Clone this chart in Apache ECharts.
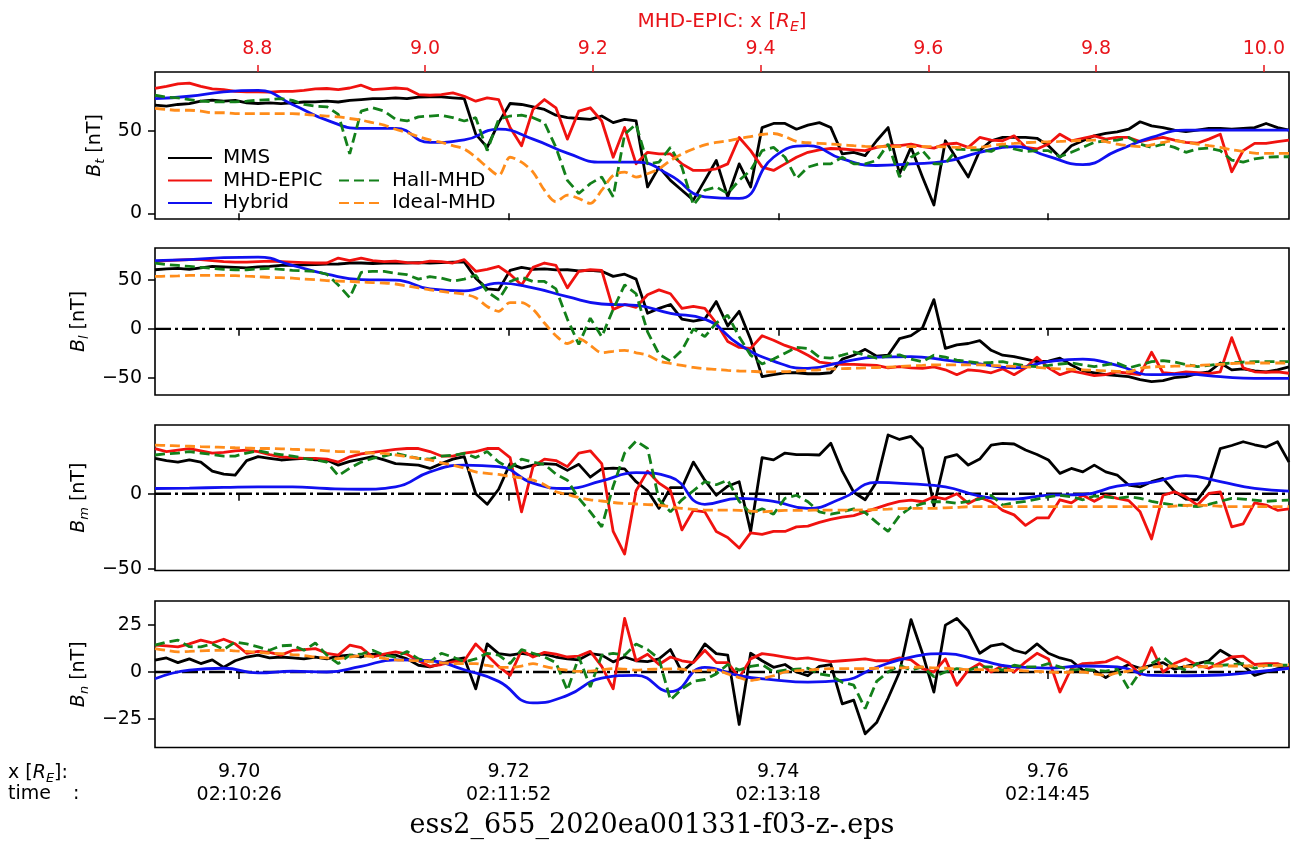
<!DOCTYPE html>
<html>
<head>
<meta charset="utf-8">
<script src="https://cdn.jsdelivr.net/npm/echarts@6/dist/echarts.min.js"></script>
<style>
  html, body { margin: 0; padding: 0; background: #fff; }
  #chart { width: 1304px; height: 852px; }
</style>
</head>
<body>
<div id="chart"></div>
<script>
// Sample positions along the MMS track (x in R_E): 100 fine samples,
// smooth Hybrid curves are stored at every third sample.
const X_START = 9.69375;
const X_STEP = 0.00085;
const COARSE_EVERY = 3;

const xTicks = [9.70, 9.72, 9.74, 9.76];
const timeLabels = ['02:10:26', '02:11:52', '02:13:18', '02:14:45'];
const topTicks = [8.8, 9.0, 9.2, 9.4, 9.6, 9.8, 10.0];

// ---- B_t ----
const btMMS = [65.6,65,66,66.5,68,68.6,68,68.5,67,66.6,
  67,66.5,67,67.5,67.6,68,67.5,68.5,69,69.5,
  69.6,70,69.5,70.5,70.6,70.6,70,69.5,48,40,
  55,66.6,66,64.5,63,59.5,58,57.5,57,59,
  55,57,56,16,28,20,14,8,20,32,
  10,30,16,52,54.5,54.5,51,53.5,55,52,
  36,37,35,44,52,24,40,22,5,44,
  33,22,38,44,46,46,46,45.5,41,34,
  41,44,47,48.5,49.4,51,55.5,53,52,50.4,
  49.5,50.5,51.5,51.5,51,51.5,52,54.5,52,50.5];
const btEPIC = [75.7,77,78.5,79,77,75.5,75,74,73.6,73.6,
  73.5,74,74,74.5,75.5,75.7,75,76,77.7,75,
  75.5,76,75.5,72,71.6,72,73,71,68,70,
  69,52,41,63,69,64,45,62,64,56,
  34,52,30,37,36,36,30,26,26,27,
  30,46,38,28,26,30,34,37,38.5,39.3,
  39,38.5,38,40,41,41,42,40.5,39.5,42,
  42.5,40,46,44.4,44,47,40,39,42,48,
  44,45.5,47,45,46,46,43.5,45,46,44.4,
  43,42.5,45,48,25.2,38,42.4,42.4,43.5,44.4];
const btHybrid = [69.6,71,73.6,74.5,66,56.5,51.5,51.5,43,44.5,
  51,45,36.5,31,31,23,10,9,34,41,
  33,29,30,31.5,37,40.5,34.5,29.5,38,46,
  50.4,50.4,50.4,50.4];
const btHall = [71.6,70.5,70,69,68,67.6,67.6,67.6,68,68.6,
  69,69.6,68.5,66,65,64.6,60,36,62,64,
  62,57,56,58.5,59,59.5,58,56,58,38,
  57,59,59.5,58,55,40,20,12,18,22,
  10,48,54,30,31,40,28,5,14,16,
  12,20,26,38,40,34,21,28,30,30,
  34,30,30,32,42,22,34,38,30,30,
  39,38.5,38.5,37.5,41.4,39,37.5,38,38,34.3,
  37,40,43,44,44.4,46,42,40,42,40,
  37,39,39.5,38,32.3,31,33,34,34.3,34.3];
const btIdeal = [63.6,63,62.5,62.5,62,61,61,60.5,60.5,60.5,
  60.5,60.5,60.5,60,59.5,59,58.5,57.5,56.5,55,
  53.5,51,49,46.5,44.5,43,41,39,34,28,
  23,34,31,25,14,7,11,9,6,14,
  23,25,22,24,27,32,36,39,41.5,43,
  44,45.4,46.5,47.8,48.4,46.5,43.6,42.8,42.4,42,
  41.5,41,40.6,40.4,40.4,40.4,40.4,40.4,40.4,40.3,
  40,39.8,40,41,42,42.4,42.8,43.2,43.4,43.6,
  44,44.2,44.4,43.5,42,41,40.5,41.5,43,44,
  43,42,41,40,38.5,37.5,36.5,36.3,36.3,36.3];

// ---- B_l ----
const blMMS = [60.6,61.5,62,61,62.5,64,63.5,63,62.5,63.5,
  64,65,65,65.5,66,66.4,66.5,67.5,67.5,67,
  67.5,67.5,67.5,68,67.5,68,68.5,68.5,52,41,
  40,60,63,61,61.5,60.5,60.6,59.5,60,59,
  53.8,56,51,16,21,25,10,8,10,28,
  3,18,-11,-49,-47,-45,-45,-46,-46,-45,
  -31,-27,-21,-28,-27,-10,-7,1,30,-20,
  -16.4,-15,-12,-22,-27,-28.4,-31,-33.6,-33,-30,
  -37,-43,-45,-47,-48,-49,-52,-54,-53,-50,
  -49,-46,-44,-35,-42,-41,-43,-44,-42,-39];
const blEPIC = [69,70,70.5,71,71,70,69,68.5,68.5,69,
  69.5,69,68.5,68,67.5,67.5,72.6,70,72.6,70,
  69,69.5,68,67.5,69.5,69,67.5,71,59,61,
  64,56,45,63,67.5,65,42,59,60.6,60,
  20,25,22,35,40,36,21,23,21,6,
  -13,-19,-20,-7,-11.6,-17,-21,-27,-34,-35.6,
  -36.5,-36.5,-37,-37.5,-40,-38.7,-40,-40.4,-39,-42,
  -47,-42,-43,-45,-41,-47,-40,-29,-40,-47,
  -43,-45.5,-48,-47,-44,-45.5,-47,-24,-45,-46,
  -44,-45,-46,-44,-9,-40,-44,-44.5,-44,-45.5];
const blHybrid = [70,71,73,73.5,65,56,50.5,50,41,39,
  46.8,42,33,25.5,24,16,10,-16,-33,-40.5,
  -34,-29,-28.5,-32,-36,-40,-33.6,-31,-37.5,-47,
  -46.5,-49,-50.7,-50.7];
const blHall = [67.5,66,65,64,63,62,61,60.6,60.6,61.5,
  62,61,60,59.5,59,56,45,32,58,59,
  59,57,55.5,51,53.5,52,49,51,55,38,
  30,48.6,53,48.6,48.6,41,10,-16,11,-8,
  20,45,36,-3,-26,-33,-22,0,-8,6,
  14,-8,-27,-36,-31,-25,-19,-20,-29,-30,
  -27,-23.6,-27,-30,-28,-26.7,-31,-33.6,-27,-29,
  -32,-33.6,-35,-34.5,-33.6,-36,-38,-38.7,-37.5,-36,
  -35,-37,-38.7,-37,-35,-40,-37,-33.6,-32.5,-34,
  -36.5,-38.7,-37.5,-36,-35,-34,-33.6,-33.6,-33.6,-33.6];
const blIdeal = [53.8,54,54.3,54.8,54.8,54.8,54.8,54.5,54,53.5,
  52.8,52.5,52,51,50.5,49.5,49,48.6,48,47.5,
  47,46,44,42,40,38.5,37,35.5,32,23,
  18,27,27,20,6,-7,-15,-10,-17,-24.5,
  -23,-22,-24.5,-27,-33,-35.5,-37.5,-39.5,-40.8,-41.5,
  -42.5,-43.2,-43.5,-44,-44,-43.8,-43.2,-42.5,-42,-41,
  -40.8,-40.4,-40,-39.6,-39.2,-38.6,-38,-37.5,-37,-37,
  -37,-37,-37,-37.5,-38,-38.5,-39,-39.5,-40.4,-41,
  -41.5,-42,-42.5,-43,-43.5,-44,-40.5,-39,-38.7,-38.2,
  -38,-37.5,-37,-36.5,-35.5,-35,-35,-35,-35,-35];

// ---- B_m ----
const bmMMS = [23.5,22,21,22.5,21,15,13,12.4,22,24.6,
  23.5,22.4,23,23.5,22.5,22.4,19,21.5,23,24.6,
  22.5,20,19.5,19,16.8,20,23,24.6,0,-7,
  3,20,17,19,20,19.5,15.5,19.5,11,16.5,
  17,16.5,8,2,-9.7,4,4,21,9,-1,
  5,8,-25,24,22.5,27,26,26,25.7,33.5,
  15,1,-4,8,39,36,38,30,-8,24,
  26,19,23,32.3,33.4,33,29,26,22.4,13.5,
  16.8,14.5,19,14.5,12.4,5.8,4.5,8,10.2,1.5,
  -3.5,-4,6,30,32,34.5,32.5,31,34.5,21];
const bmEPIC = [30,28,29,30,28.5,27,27.5,28.5,29,28,
  26,24.5,24,23.5,23.5,23,21,24.5,26.5,27.5,
  28.5,29.5,30,30,28,25,25,27,28,30,
  30,24,-12,18,23,22,18,27,28.5,20,
  -25,-40,2,15,7,2,-24,-11,-12,-25,
  -29,-36,-26,-27,-25,-25,-22,-21.5,-19,-17,
  -15.5,-14.5,-12,-9.5,-7,-5,-4.2,-5.3,-2,-3.5,
  0,-6.4,-2.5,-5.3,-11,-14,-21,-16,-16,-4,
  -6,-1,-5,-1,-3,-4.5,-12,-30,-1,1.3,
  -2,-7.5,0.2,1.3,-22,-20,-6,-7.5,-11,-10];
const bmHybrid = [3.5,3.8,4.2,4.6,4.6,3.5,3,4.6,14.5,19,
  18,7,3.5,8.5,14,11,-7,-3,-5,-9.7,
  -3,7.5,6.5,4.6,-1.5,-3.5,-0.9,-0.5,5,7.5,
  12,8,3.5,1.8];
const bmHall = [25.7,26.5,27,28,27,26,25,25,27,28.5,
  27,26,25,23.5,22.5,21,12,17,21,23.5,
  25,26.8,25,23.5,23,25,25.5,26.8,24,28,
  21,17,23,21,19.5,13,9,-3,-12,-22,
  5,27,35,30,-4,-12,-4,2,8,6,
  9,-5,-13,-10,-13.5,-3,-1,-5.3,-12,-13.5,
  -12,-10,-12.5,-19,-25,-14.5,-9,-6.5,-5.3,-5.3,
  -6.4,-5,-3.5,-1,-7.5,-6,-5,-3.5,-2,-1,
  -2,-4,-1.5,-2,-3,-2,-3,-5,-6.4,-7.5,
  -7.8,-8.6,-7,-5,-3,-3.5,-4.2,-5,-4.5,-4.2];
const bmIdeal = [32.3,32,31.8,31.5,31.2,31,30.8,30.5,30.3,30,
  30,29.8,29.5,29.2,29,28.5,28,28,27.5,27,
  26.8,25.8,24.6,23.5,22.4,20.5,19,17,14.5,13.5,
  12.8,11.5,10.5,9,6,1.3,-0.5,-2.5,-4,-4.8,
  -5.8,-6.4,-6.8,-7.2,-7.5,-8.6,-9.7,-10.3,-10.8,-10.8,
  -10.8,-11,-11.5,-12,-11.5,-11,-11,-11,-10.8,-10.8,
  -10.8,-10.8,-10.7,-10.5,-10.2,-9.8,-9.7,-9.7,-9.7,-9.3,
  -9,-8.6,-8.6,-8.6,-8.6,-8.6,-8.6,-8.6,-8.6,-8.6,
  -8.6,-8.6,-8.6,-8.6,-8.6,-8.6,-8.6,-8.6,-8.6,-8.2,
  -7.8,-7.5,-7.8,-8.3,-8.6,-8.6,-8.6,-8.6,-8.6,-8.6];

// ---- B_n ----
const bnMMS = [6.3,7.5,5,7,4.5,6.5,2.5,6,8,9,
  7.5,8,7.5,7,8,7,8.5,9,8,9.5,
  9,9,7,3.6,2.7,4.5,6.5,7.5,-9,15,
  9.8,9,10,9,9.5,8,7,6.5,9.8,9,
  5.4,8,6,5.5,7,12,0,5.4,15,9.8,
  9,-28,10,6,2.5,4,0,-2,3,4,
  -17,-15,-33,-27,-14,0,28,10,-10.7,25,
  28.6,22,10,14,15,11.6,10,15,10,7.5,
  6,1,0.9,-3,0.9,4,2,3.6,5,1.5,
  3,4.5,6,11.6,8,3.5,-1.8,0,1.8,2.5];
const bnEPIC = [14.3,14,13.4,15,17,15.5,17.5,15,10,11,
  10.5,9,11.5,12,12.5,10,9,14.3,13,8,
  9.5,10.7,9.5,6,3,4,5.4,6,15,9,
  3,-1.8,11.6,8,10.5,9.5,8,8.5,11,3,
  -9,28.6,6,9.5,4,8,6,5,11.6,5,
  5,-3,7,9.8,9,8,7,7.5,6.5,5.5,
  6,6.5,7,6,6,7.5,6.5,1.8,0,7,
  -7.1,1,4.5,0,3.5,0,5.4,10,7,-10.7,
  2,4.5,4.8,5.4,8,5,-1.5,13,0,4.5,
  7,3.6,2,5,8,8.5,4,4.5,4.5,2];
const bnHybrid = [-3.6,1,2,-0.5,0.4,0,3,6.5,6,1.2,
  -5,-16.5,-12.5,-3.3,-1.8,-10.5,2.5,-2,-4.2,-5.4,
  -4.5,2.5,8,9.8,6.3,2.7,2.1,3.2,2.7,-1.8,
  -2,-1.6,0,2];
const bnHall = [14.3,16,17,13.5,13.4,15,12,16,15,13.4,
  11.6,14,14.3,11.6,15.5,9,4.5,9,9.5,11.6,
  9,8,11,7,5.4,10,8,5.4,7,10,
  9,4.5,12,10,8,5,-9.8,8,-8,9,
  10,9,15,12,7,-15,-9,-5,-4,-1,
  4,1,3,4,0,1,1.5,2,-1,-2,
  -5.5,-7,-19.6,-5,0,3.6,1,2.7,-2.5,0,
  1.8,1,2.7,2.7,1,3.6,2.7,2.7,4.5,2.7,
  1,1.5,1,0.5,1.5,-9,0,4.5,8,3,
  1,4.5,5,3.5,4,4.5,2,3.5,3.6,3.6];
const bnIdeal = [12.5,11.5,10.7,11,11.3,11.5,11.6,11.3,11,10.5,
  10,9.8,9.3,8.8,8,7.5,7.1,8,8.7,8.2,
  7.3,6.5,6.3,6,5.5,5,4.5,4.5,4.5,3.5,
  2.5,2.5,3.2,4.5,3,1.8,1,0.3,0.5,1.2,
  1.8,1.5,1,1.4,1.5,1.7,1.5,0.5,1,1,
  -1,-3,-4.5,-3.5,-2,0,0.7,1,1.5,1.8,
  1.8,1.8,1.8,2,2.2,2.2,2.5,2.6,2.2,2,
  1.6,1.3,1.3,1,0.9,0.9,0.6,0.3,0,-0.3,
  0,0,-1,-1.8,-0.5,0.5,1.8,2.7,3,3.2,
  3,2.7,3,3.2,3.2,3.2,3.2,3.4,3.6,3.9];

// ---- styling ----
const FONT = 'DejaVu Sans';
const COLORS = { MMS: '#000000', 'MHD-EPIC': '#f0120f', Hybrid: '#1010f0', 'Hall-MHD': '#13801a', 'Ideal-MHD': '#ff8c1a' };
const X_MIN = 9.69375, X_MAX = 9.7779;
const TOP_MIN = 8.678, TOP_MAX = 10.030;
const LW = 2.8;

const panels = [
  { label: 't', top: 72,  height: 147, min: -3.45, max: 85.7, ticks: [0, 50], zero: false,
    mms: btMMS, epic: btEPIC, hybrid: btHybrid, hall: btHall, ideal: btIdeal },
  { label: 'l', top: 248, height: 147, min: -67.8, max: 82.9, ticks: [-50, 0, 50], zero: true,
    mms: blMMS, epic: blEPIC, hybrid: blHybrid, hall: blHall, ideal: blIdeal },
  { label: 'm', top: 425, height: 145.5, min: -50.9, max: 45.6, ticks: [-50, 0], zero: true,
    mms: bmMMS, epic: bmEPIC, hybrid: bmHybrid, hall: bmHall, ideal: bmIdeal },
  { label: 'n', top: 601, height: 146.5, min: -40.3, max: 37.9, ticks: [-25, 0, 25], zero: true,
    mms: bnMMS, epic: bnEPIC, hybrid: bnHybrid, hall: bnHall, ideal: bnIdeal }
];

function toPairs(vals, every) {
  return vals.map((v, k) => [X_START + k * every * X_STEP, v]);
}
const minus = v => String(v).replace('-', '\u2212');

const grid = [], xAxis = [], yAxis = [], series = [];

panels.forEach((p, gi) => {
  grid.push({ left: 155, right: 15, top: p.top, height: p.height, show: true,
    borderColor: '#000', borderWidth: 1.6, backgroundColor: 'transparent' });

  const last = gi === panels.length - 1;
  xAxis.push({
    type: 'value', gridIndex: gi, min: X_MIN, max: X_MAX, position: 'bottom',
    axisLine: { show: false }, splitLine: { show: false },
    axisTick: { show: true, customValues: xTicks, length: 7, lineStyle: { color: '#000', width: 1.5 } },
    axisLabel: {
      show: last, customValues: xTicks, margin: 13, fontFamily: FONT, fontSize: 19,
      color: '#000', lineHeight: 23,
      formatter: v => {
        const k = xTicks.findIndex(t => Math.abs(t - v) < 1e-6);
        return v.toFixed(2) + '\n' + (k >= 0 ? timeLabels[k] : '');
      }
    }
  });

  yAxis.push({
    type: 'value', gridIndex: gi, min: p.min, max: p.max,
    axisLine: { show: false }, splitLine: { show: false },
    axisTick: { show: true, customValues: p.ticks, length: 7, lineStyle: { color: '#000', width: 1.5 } },
    axisLabel: { customValues: p.ticks, margin: 13, fontFamily: FONT, fontSize: 19, color: '#000', formatter: minus },
    name: '{b|B}{s|' + p.label + '} [nT]',
    nameLocation: 'middle', nameRotate: 90, nameGap: 40,
    nameTextStyle: { fontFamily: FONT, fontSize: 19, color: '#000', lineHeight: 24,
      rich: {
        b: { fontFamily: FONT, fontStyle: 'italic', fontSize: 19, lineHeight: 24 },
        s: { fontFamily: FONT, fontStyle: 'italic', fontSize: 13, lineHeight: 10, verticalAlign: 'bottom' }
      } }
  });

  const common = { xAxisIndex: gi, yAxisIndex: gi, type: 'line', symbol: 'none', silent: true };
  if (p.zero) {
    series.push(Object.assign({}, common, {
      name: 'zero' + gi, z: 1,
      data: [[X_MIN, 0], [X_MAX, 0]],
      lineStyle: { color: '#000', width: 2.4, type: [16, 4, 3, 4] }
    }));
  }
  series.push(Object.assign({}, common, { name: 'MMS', data: toPairs(p.mms, 1),
    lineStyle: { color: COLORS.MMS, width: LW, join: 'round' }, itemStyle: { color: COLORS.MMS } }));
  series.push(Object.assign({}, common, { name: 'MHD-EPIC', data: toPairs(p.epic, 1),
    lineStyle: { color: COLORS['MHD-EPIC'], width: LW, join: 'round' }, itemStyle: { color: COLORS['MHD-EPIC'] } }));
  series.push(Object.assign({}, common, { name: 'Hybrid', data: toPairs(p.hybrid, COARSE_EVERY), smooth: 0.5,
    lineStyle: { color: COLORS.Hybrid, width: LW }, itemStyle: { color: COLORS.Hybrid } }));
  series.push(Object.assign({}, common, { name: 'Hall-MHD', data: toPairs(p.hall, 1),
    lineStyle: { color: COLORS['Hall-MHD'], width: LW, type: [10, 5] }, itemStyle: { color: COLORS['Hall-MHD'] } }));
  series.push(Object.assign({}, common, { name: 'Ideal-MHD', data: toPairs(p.ideal, 1), smooth: 0.3,
    lineStyle: { color: COLORS['Ideal-MHD'], width: LW, type: [10, 5] }, itemStyle: { color: COLORS['Ideal-MHD'] } }));
});

// upper axis: MHD-EPIC position along the simulation track
xAxis.push({
  type: 'value', gridIndex: 0, min: TOP_MIN, max: TOP_MAX, position: 'top',
  axisLine: { show: false }, splitLine: { show: false },
  axisTick: { show: true, customValues: topTicks, length: 7, lineStyle: { color: '#e8141a', width: 1.5 } },
  axisLabel: { customValues: topTicks, margin: 13, fontFamily: FONT, fontSize: 19, color: '#e8141a',
    formatter: v => v.toFixed(1) }
});

const legendText = { fontFamily: FONT, fontSize: 20, color: '#000', padding: [0, 0, 0, 6] };
const legendCommon = { orient: 'vertical', itemHeight: 14, itemGap: 2.5, textStyle: legendText,
  selectedMode: false, itemStyle: { opacity: 0 } };
const option = {
  animation: false,
  backgroundColor: '#fff',
  grid, xAxis, yAxis, series,
  legend: [
    Object.assign({ data: ['MMS', 'MHD-EPIC', 'Hybrid'], left: 162, top: 143, itemWidth: 44 }, legendCommon),
    Object.assign({ data: ['Hall-MHD', 'Ideal-MHD'], left: 333, top: 165.5, itemWidth: 42 }, legendCommon)
  ],
  graphic: [
    // title of the upper (MHD-EPIC) axis
    { type: 'text', x: 722, y: 22,
      style: { text: 'MHD-EPIC: x [{r|R}{e|E}]', fontFamily: FONT, fontSize: 20, fill: '#e8141a',
        align: 'center', verticalAlign: 'middle', lineHeight: 24,
        rich: { r: { fontFamily: FONT, fontStyle: 'italic', fontSize: 20, fill: '#e8141a', lineHeight: 24 },
                e: { fontFamily: FONT, fontStyle: 'italic', fontSize: 14, fill: '#e8141a', lineHeight: 10, verticalAlign: 'bottom' } } } },
    { type: 'text', left: 8, top: 762,
      style: { text: 'x [{i|R}{s|E}]:', fontFamily: FONT, fontSize: 19, fill: '#000', lineHeight: 23,
        rich: { i: { fontFamily: FONT, fontStyle: 'italic', fontSize: 19, lineHeight: 23 },
                s: { fontFamily: FONT, fontStyle: 'italic', fontSize: 13, lineHeight: 10, verticalAlign: 'bottom' } } } },
    { type: 'text', left: 8, top: 785,
      style: { text: 'time', fontFamily: FONT, fontSize: 19, fill: '#000' } },
    { type: 'text', left: 73, top: 785,
      style: { text: ':', fontFamily: FONT, fontSize: 19, fill: '#000' } },
    { type: 'text', left: 'center', top: 812,
      style: { text: 'ess2_655_2020ea001331-f03-z-.eps', fontFamily: 'DejaVu Serif', fontSize: 27, fill: '#000' } }
  ]
};

const chart = echarts.init(document.getElementById('chart'), null, { renderer: 'canvas' });
chart.setOption(option);
</script>
</body>
</html>
